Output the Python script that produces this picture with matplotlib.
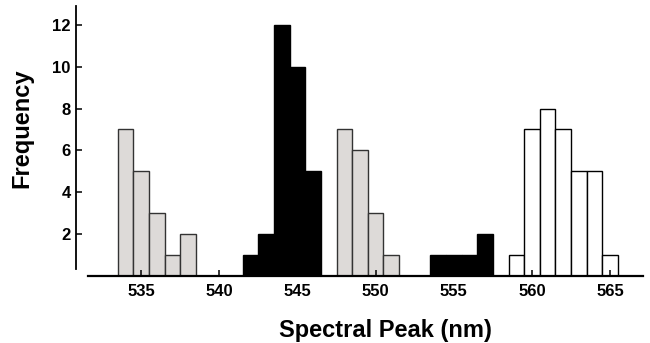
import matplotlib.pyplot as plt

plt.rcParams['font.family'] = ['Liberation Sans', 'DejaVu Sans']
plt.rcParams['font.weight'] = 'bold'

# spectral peak bins (nm) and counts per group
gray_a_nm = [534, 535, 536, 537, 538]
gray_a_n = [7, 5, 3, 1, 2]
black_a_nm = [542, 543, 544, 545, 546]
black_a_n = [1, 2, 12, 10, 5]
gray_b_nm = [548, 549, 550, 551]
gray_b_n = [7, 6, 3, 1]
black_b_nm = [554, 555, 556, 557]
black_b_n = [1, 1, 1, 2]
white_nm = [559, 560, 561, 562, 563, 564, 565]
white_n = [1, 7, 8, 7, 5, 5, 1]

xticks = [535, 540, 545, 550, 555, 560, 565]
yticks = [2, 4, 6, 8, 10, 12]

fig = plt.figure(figsize=(6.5, 3.43), dpi=100)
ax = fig.add_axes([0.1354, 0.1953, 0.8538, 0.7872])

gray = '#dddad8'
ax.bar(gray_a_nm, gray_a_n, width=1, color=gray, edgecolor='#333333', linewidth=1)
ax.bar(gray_b_nm, gray_b_n, width=1, color=gray, edgecolor='#333333', linewidth=1)
ax.bar(black_a_nm, black_a_n, width=1, color='black', edgecolor='black', linewidth=1)
ax.bar(black_b_nm, black_b_n, width=1, color='black', edgecolor='black', linewidth=1)
ax.bar(white_nm, white_n, width=1, color='white', edgecolor='black', linewidth=1)

ax.set_xlim(531.6, 567.1)
ax.set_ylim(0, 12.9)

for s in ['top', 'right']:
    ax.spines[s].set_visible(False)
ax.spines['bottom'].set_linewidth(1.6)
ax.spines['left'].set_linewidth(1.3)
ax.spines['left'].set_position(('outward', 9))
ax.spines['left'].set_bounds(0.33, 12.9)

ax.set_xticks(xticks)
ax.set_yticks(yticks)
ax.tick_params(axis='both', direction='in', length=4, width=1.1,
               labelsize=12, pad=3.5)
ax.tick_params(axis='x', pad=5.5)
for lab in ax.get_xticklabels() + ax.get_yticklabels():
    lab.set_fontweight('bold')

ax.set_xlabel('Spectral Peak (nm)', fontsize=17, fontweight='bold')
ax.set_ylabel('Frequency', fontsize=17, fontweight='bold')
ax.xaxis.set_label_coords(0.536, -0.159)
ax.yaxis.set_label_coords(-0.099, 0.546)

fig.savefig('out.png', dpi=100)
